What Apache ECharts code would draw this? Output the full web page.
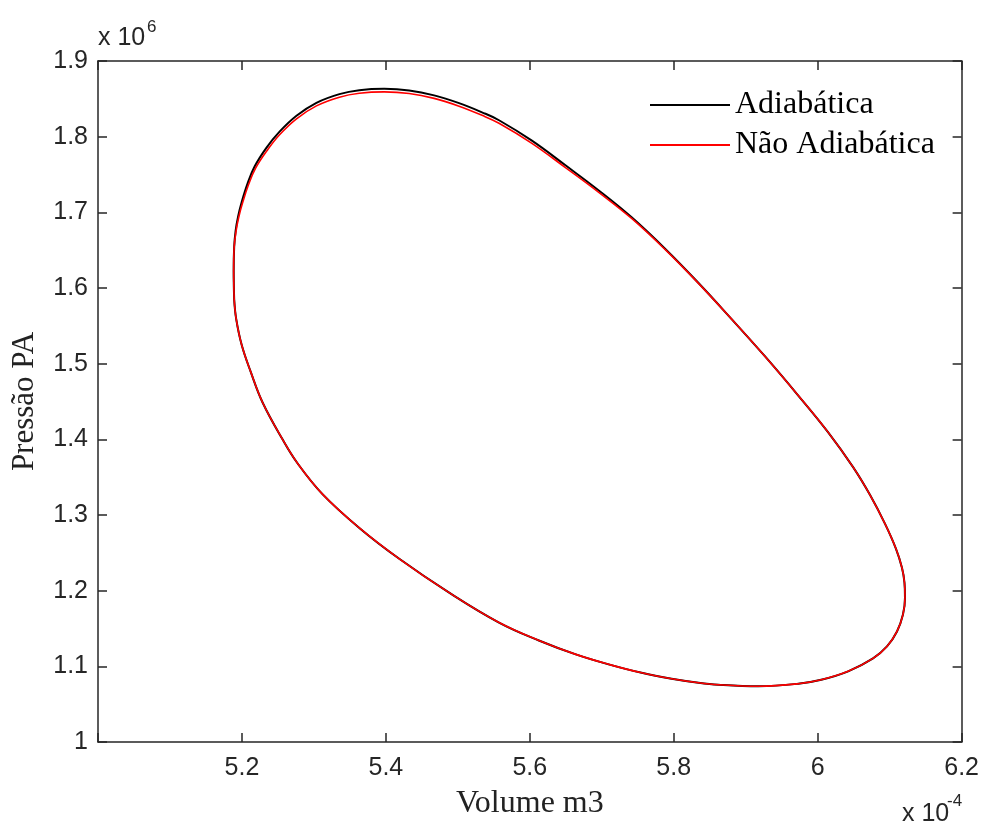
<!DOCTYPE html>
<html>
<head>
<meta charset="utf-8">
<script src="https://cdn.jsdelivr.net/npm/echarts@6/dist/echarts.min.js"></script>
<style>
  html, body { margin: 0; padding: 0; background: #fff; }
  #chart { width: 982px; height: 825px; }
</style>
</head>
<body>
<div id="chart"></div>
<script>
// volume in units of 1e-4 m3, pressure in units of 1e6 Pa
const volAdiab = [5.1892, 5.1885, 5.1892, 5.1913, 5.1947, 5.1996, 5.2079, 5.2176, 5.2342, 5.2523, 5.2758, 5.3035, 5.3354, 5.3631, 5.3978, 5.4324, 5.4671, 5.5017, 5.5336, 5.5572, 5.6029, 5.6500, 5.6958, 5.7415, 5.7886, 5.8344, 5.8801, 5.9272, 5.9730, 6.0146, 6.0492, 6.0728, 6.0936, 6.1088, 6.1171, 6.1206, 6.1213, 6.1185, 6.1102, 6.0963, 6.0769, 6.0423, 6.0049, 5.9730, 5.9175, 5.8621, 5.8344, 5.7970, 5.7554, 5.7096, 5.6639, 5.6126, 5.5572, 5.4879, 5.4186, 5.3631, 5.3119, 5.2772, 5.2564, 5.2287, 5.2121, 5.1996, 5.1920, 5.1892];
const presAdiab = [1.5855, 1.6224, 1.6539, 1.6763, 1.6947, 1.7132, 1.7382, 1.7605, 1.7855, 1.8066, 1.8276, 1.8447, 1.8562, 1.8614, 1.8632, 1.8611, 1.8546, 1.8443, 1.8322, 1.8217, 1.7947, 1.7618, 1.7289, 1.6934, 1.6513, 1.6066, 1.5592, 1.5092, 1.4579, 1.4092, 1.3632, 1.3263, 1.2882, 1.2553, 1.2303, 1.2105, 1.1908, 1.1684, 1.1461, 1.1263, 1.1105, 1.0934, 1.0822, 1.0770, 1.0737, 1.0757, 1.0783, 1.0836, 1.0914, 1.1026, 1.1158, 1.1342, 1.1579, 1.1974, 1.2421, 1.2829, 1.3276, 1.3684, 1.4000, 1.4487, 1.4895, 1.5250, 1.5592, 1.5855];

const volNaoAdiab = [5.1892, 5.1885, 5.1892, 5.1920, 5.1957, 5.2008, 5.2092, 5.2190, 5.2355, 5.2523, 5.2758, 5.3035, 5.3354, 5.3631, 5.3978, 5.4324, 5.4671, 5.5017, 5.5336, 5.5572, 5.6029, 5.6500, 5.6958, 5.7415, 5.7886, 5.8344, 5.8801, 5.9272, 5.9730, 6.0146, 6.0492, 6.0728, 6.0936, 6.1088, 6.1171, 6.1206, 6.1213, 6.1185, 6.1102, 6.0963, 6.0769, 6.0423, 6.0049, 5.9730, 5.9175, 5.8621, 5.8344, 5.7970, 5.7554, 5.7096, 5.6639, 5.6126, 5.5572, 5.4879, 5.4186, 5.3631, 5.3119, 5.2772, 5.2564, 5.2287, 5.2121, 5.1996, 5.1920, 5.1892];
const presNaoAdiab = [1.5855, 1.6224, 1.6539, 1.6763, 1.6942, 1.7122, 1.7367, 1.7585, 1.7825, 1.8026, 1.8236, 1.8407, 1.8522, 1.8574, 1.8592, 1.8571, 1.8506, 1.8403, 1.8282, 1.8177, 1.7912, 1.7588, 1.7264, 1.6919, 1.6503, 1.6061, 1.5592, 1.5092, 1.4579, 1.4092, 1.3632, 1.3263, 1.2882, 1.2553, 1.2303, 1.2105, 1.1908, 1.1684, 1.1461, 1.1263, 1.1105, 1.0934, 1.0822, 1.0770, 1.0737, 1.0757, 1.0783, 1.0836, 1.0914, 1.1026, 1.1158, 1.1342, 1.1579, 1.1974, 1.2421, 1.2829, 1.3276, 1.3684, 1.4000, 1.4487, 1.4895, 1.5250, 1.5592, 1.5855];

const seriesNames = ["Adiabática", "Não Adiabática"];

const sans = "Liberation Sans, Arial, sans-serif";
const serif = "Liberation Serif, Times New Roman, serif";
const axisColor = "#262626";

function pairs(xs, ys) {
  return xs.map((x, i) => [x, ys[i]]);
}
function tickFmt(v) {
  return String(Math.round(v * 10) / 10);
}

const chart = echarts.init(document.getElementById("chart"));

const lineAxis = {
  axisLine: { show: true, onZero: false, lineStyle: { color: axisColor, width: 1.5 } },
  axisTick: { show: true, inside: true, length: 9, lineStyle: { color: axisColor, width: 1.5 } },
  splitLine: { show: false },
};

chart.setOption({
  animation: false,
  grid: { left: 98, right: 17, top: 61, bottom: 80 },
  legend: {
    orient: "vertical",
    left: 645,
    top: 84,
    itemWidth: 80,
    itemHeight: 2,
    itemGap: 8,
    icon: "rect",
    data: seriesNames,
    textStyle: { fontFamily: serif, fontSize: 32, color: "#000" },
  },
  xAxis: [
    {
      type: "value",
      min: 5,
      max: 6.2,
      interval: 0.2,
      ...lineAxis,
      axisLabel: {
        margin: 14,
        fontFamily: sans,
        fontSize: 25,
        color: axisColor,
        formatter: (v) => (Math.abs(v - 5) < 1e-9 ? "" : tickFmt(v)),
      },
      name: "Volume m3",
      nameLocation: "middle",
      nameGap: 46,
      nameTextStyle: { fontFamily: serif, fontSize: 32, color: "#222" },
    },
    {
      type: "value",
      position: "top",
      min: 5,
      max: 6.2,
      interval: 0.2,
      ...lineAxis,
      axisLabel: { show: false },
    },
  ],
  yAxis: [
    {
      type: "value",
      min: 1,
      max: 1.9,
      interval: 0.1,
      ...lineAxis,
      axisLabel: {
        margin: 10,
        fontFamily: sans,
        fontSize: 25,
        color: axisColor,
        formatter: tickFmt,
      },
      name: "Pressão PA",
      nameLocation: "middle",
      nameGap: 58,
      nameTextStyle: { fontFamily: serif, fontSize: 31, color: "#222" },
    },
    {
      type: "value",
      position: "right",
      min: 1,
      max: 1.9,
      interval: 0.1,
      ...lineAxis,
      axisLabel: { show: false },
    },
  ],
  graphic: [
    {
      type: "text",
      left: 98,
      top: 26,
      style: { text: "x 10", fontFamily: sans, fontSize: 25, fill: axisColor },
    },
    {
      type: "text",
      left: 147,
      top: 19,
      style: { text: "6", fontFamily: sans, fontSize: 17, fill: axisColor },
    },
    {
      type: "text",
      left: 902,
      top: 802,
      style: { text: "x 10", fontFamily: sans, fontSize: 25, fill: axisColor },
    },
    {
      type: "text",
      left: 947,
      top: 793,
      style: { text: "-4", fontFamily: sans, fontSize: 17, fill: axisColor },
    },
  ],
  series: [
    {
      name: seriesNames[0],
      type: "line",
      data: pairs(volAdiab, presAdiab),
      smooth: 0.4,
      showSymbol: false,
      color: "#000",
      lineStyle: { color: "#000", width: 2 },
    },
    {
      name: seriesNames[1],
      type: "line",
      data: pairs(volNaoAdiab, presNaoAdiab),
      smooth: 0.4,
      showSymbol: false,
      color: "#ff0000",
      lineStyle: { color: "#ff0000", width: 1.6 },
    },
  ],
});
</script>
</body>
</html>
